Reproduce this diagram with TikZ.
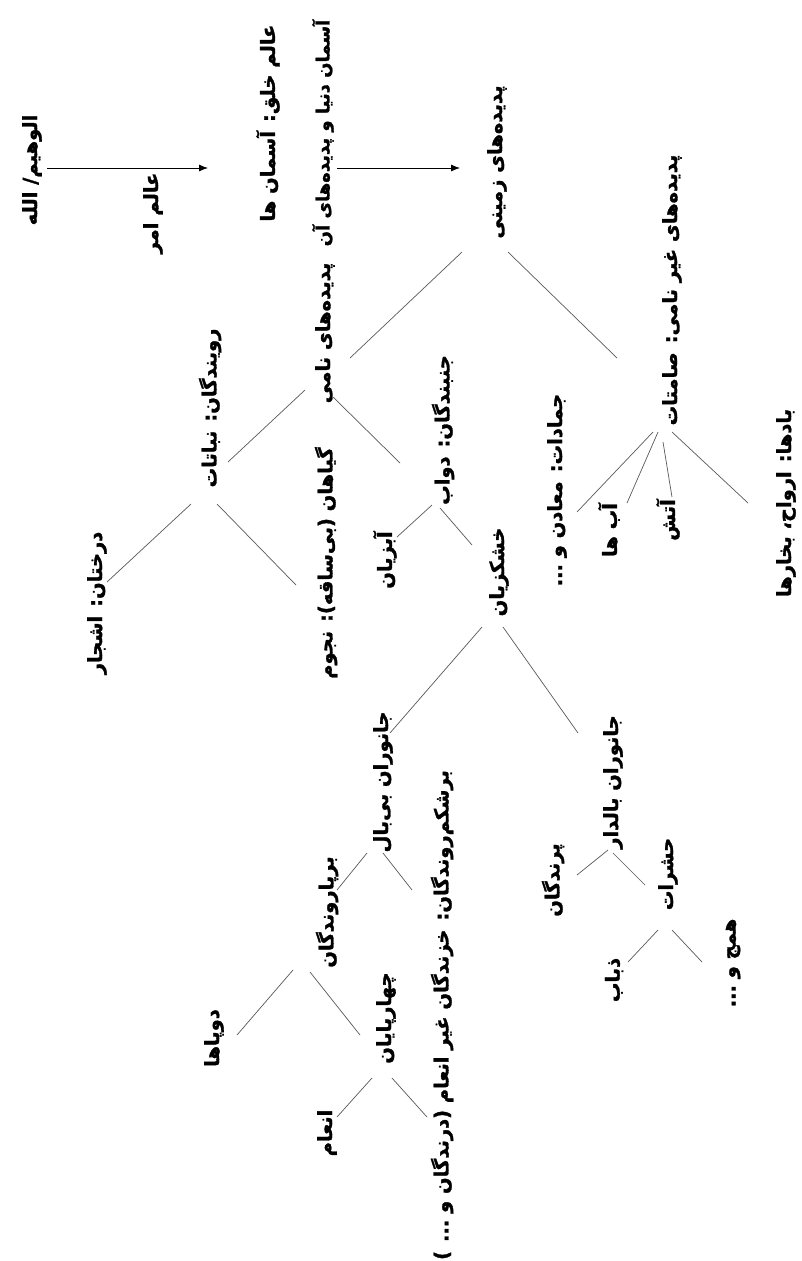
\documentclass[tikz,border=0pt]{standalone}
\usepackage{fontspec}
\usetikzlibrary{calc,arrows.meta}
\TeXXeTstate=1
\newfontfamily\fa[Script=Arabic,BoldFeatures={FakeBold=1.5}]{DejaVu Sans}
\newcommand{\rt}[1]{\beginR #1\endR}
\newcommand{\link}[6]{\draw[conn] ($(#1)+(#2,#3)$) -- ($(#4)+(#5,#6)$);}
\tikzset{
  lbl/.style={rotate=90, inner sep=0pt, font=\fa\bfseries\fontsize{19.5}{21}\selectfont},
  lblsmall/.style={lbl, font=\fa\bfseries\fontsize{18}{20}\selectfont},
  conn/.style={draw=black!65, line width=0.7pt},
  arr/.style={-{Latex[length=9pt,width=7pt]}, line width=0.8pt, draw=black}
}
\begin{document}
\begin{tikzpicture}[x=1pt,y=-1pt]
\useasboundingbox[fill=white] (0,0) rectangle (801,1261);
\node[lbl] (god) at (32,170) {\rt{الوهیم/ الله}};
\node[lbl] (amr) at (153,213) {\rt{عالم امر}};
\node[lbl] (khalq) at (268,123) {\rt{عالم خلق: آسمان ها}};
\node[lblsmall] (donya) at (323,133) {\rt{آسمان دنیا و پدیده‌های آن}};
\node[lbl] (nami) at (325,333) {\rt{پدیده‌های نامی}};
\node[lbl] (zamini) at (497,162) {\rt{پدیده‌های زمینی}};
\node[lbl] (samet) at (672,290) {\rt{پدیده‌های غیر نامی: صامتات}};
\node[lbl] (ravande) at (210,408) {\rt{رویندگان: نباتات}};
\node[lbl] (derakht) at (97,603) {\rt{درختان: اشجار}};
\node[lbl] (giah) at (326,563) {\rt{گیاهان (بی‌ساقه): نجوم}};
\node[lbl] (jonbande) at (443,430) {\rt{جنبندگان: دواب}};
\node[lbl] (abzi) at (385,560) {\rt{آبزیان}};
\node[lbl] (khoshki) at (499,572) {\rt{خشکزیان}};
\node[lbl] (jamad) at (557,490) {\rt{جمادات: معادن و ...}};
\node[lbl] (ab) at (609,530) {\rt{آب ها}};
\node[lbl] (atash) at (668,520) {\rt{آتش}};
\node[lbl] (bad) at (786,503) {\rt{بادها: ارواح، بخارها}};
\node[lbl] (bibal) at (383,782) {\rt{جانوران بی‌بال}};
\node[lbl] (baldar) at (613,782) {\rt{جانوران بالدار}};
\node[lbl] (barpa) at (327,912) {\rt{برپاروندگان}};
\node[lbl] (bareshkam) at (442,1015) {\rt{برشکم‌روندگان: خزندگان غیر انعام (درندگان و ... )}};
\node[lbl] (parande) at (553,880) {\rt{پرندگان}};
\node[lbl] (hasharat) at (668,874) {\rt{حشرات}};
\node[lbl] (zobab) at (614,980) {\rt{ذباب}};
\node[lbl] (hamaj) at (733,963) {\rt{همج و ...}};
\node[lbl] (dopa) at (214,1038) {\rt{دوپاها}};
\node[lbl] (chahar) at (386,1018) {\rt{چهارپایان}};
\node[lbl] (anam) at (327,1133) {\rt{انعام}};
% arrows
\draw[arr] ($(god)+(15,-2)$) -- ($(khalq)+(-60,45)$);
\draw[arr] ($(donya)+(14,35)$) -- ($(zamini)+(-37,6)$);
% tree connectors
\link{zamini}{-35}{90}{nami}{25}{25}
\link{zamini}{11}{90}{samet}{-55}{68}
\link{nami}{-20}{57}{ravande}{18}{54}
\link{nami}{8}{64}{jonbande}{-43}{33}
\link{ravande}{-19}{96}{derakht}{10}{-21}
\link{ravande}{7}{96}{giah}{-30}{22}
\link{jonbande}{-11}{75}{abzi}{12}{-23}
\link{jonbande}{-3}{78}{khoshki}{-27}{-27}
\link{samet}{-19}{142}{jamad}{20}{22}
\link{samet}{-14}{142}{ab}{18}{-27}
\link{samet}{-9}{152}{atash}{4}{-23}
\link{samet}{0}{142}{bad}{-38}{0}
\link{khoshki}{-17}{55}{bibal}{7}{-49}
\link{khoshki}{4}{55}{baldar}{-35}{-49}
\link{bibal}{-16}{71}{barpa}{10}{-22}
\link{bibal}{0}{71}{bareshkam}{-30}{-125}
\link{baldar}{-5}{68}{parande}{24}{-5}
\link{baldar}{0}{71}{hasharat}{-23}{11}
\link{hasharat}{-10}{56}{zobab}{14}{-18}
\link{hasharat}{4}{56}{hamaj}{-31}{-1}
\link{barpa}{-34}{58}{dopa}{23}{-3}
\link{barpa}{-17}{60}{chahar}{-26}{17}
\link{chahar}{-14}{60}{anam}{10}{-16}
\link{chahar}{6}{60}{bareshkam}{-15}{102}
\end{tikzpicture}
\end{document}
